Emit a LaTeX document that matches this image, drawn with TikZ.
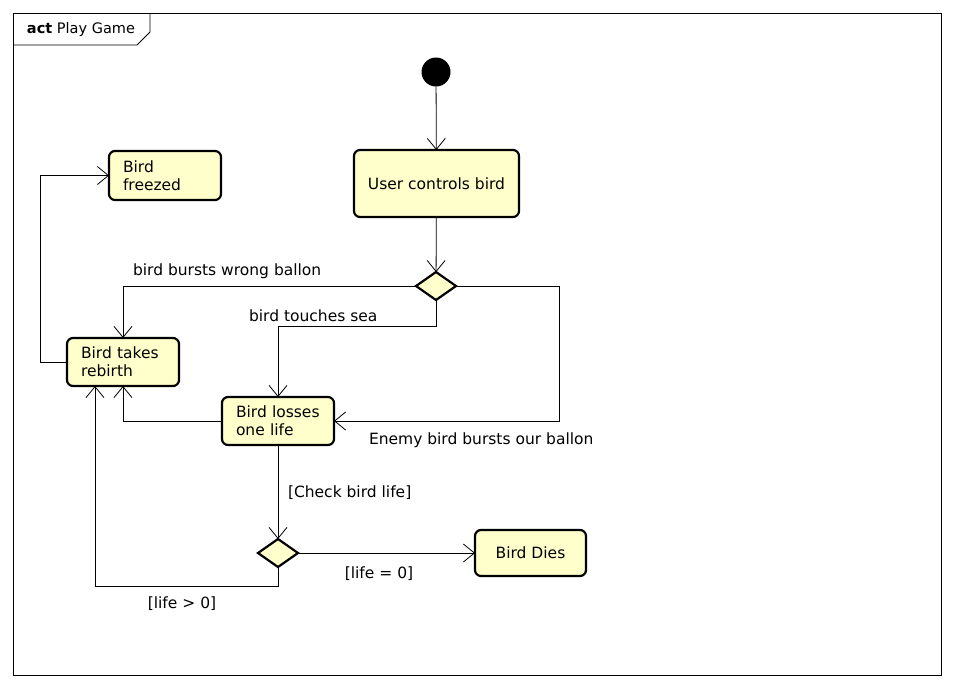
\documentclass[tikz,border=0pt]{standalone}
\usepackage{fontspec}
\setmainfont{DejaVu Sans}
\usepackage{xcolor}
\usetikzlibrary{shapes, positioning, arrows.meta}
\definecolor{actfill}{RGB}{255,255,204}

\begin{document}
\begin{tikzpicture}[x=1pt,y=-1pt,outer sep=0pt,
    action/.style={draw, line width=2.2pt, rounded corners=6pt, fill=actfill, font=\fontsize{15.5}{18}\selectfont},
    decision/.style={draw, diamond, line width=2.2pt, fill=actfill, minimum width=40pt, minimum height=28pt, inner sep=0pt},
    flow/.style={-{Straight Barb[length=11pt,width=18pt]}, line width=0.8pt},
    lbl/.style={font=\fontsize{15.5}{18}\selectfont, inner sep=0pt}]
    \useasboundingbox (0,0) rectangle (953,689);

    % Rahmen
    \draw[line width=0.8pt] (13,13) rectangle (941,675);
    \draw[line width=0.8pt] (13,45) -- (137,45) -- (150,32) -- (150,13);
    \node[lbl, font=\fontsize{14.5}{17}\selectfont, anchor=west] (title) at (27,29) {\textbf{act} Play Game};

    % Start
    \node[circle, fill=black, minimum size=29pt, inner sep=0pt] (start) at (436,72) {};

    % Aktionen
    \node[action, minimum width=165pt, minimum height=67pt, align=center] (control) at (436.5,183.5) {User controls bird};
    \node[action, text width=84pt, inner xsep=14pt, minimum height=49pt, align=left] (freezed) at (165,175.5) {Bird\\freezed};
    \node[action, text width=84pt, inner xsep=14pt, minimum height=48pt, align=left] (rebirth) at (123,362) {Bird takes\\rebirth};
    \node[action, text width=84pt, inner xsep=14pt, minimum height=48pt, align=left] (losses) at (278,421) {Bird losses\\one life};
    \node[action, minimum width=111pt, minimum height=46pt, align=center] (dies) at (530.5,553) {Bird Dies};

    % Entscheidungen
    \node[decision] (check) at (436,286) {};
    \node[decision] (lifecheck) at (278,553) {};

    % Kanten
    \draw[flow] (start) -- (control);
    \draw[flow] (control) -- (check);
    \draw[flow] (check.west) -| (rebirth.north);
    \draw[flow] (check.south) -- ++(0,26) -| (losses.north);
    \draw[flow] (check.east) -- ++(103,0) |- (losses.east);
    \draw[flow] (losses.west) -| (rebirth.south);
    \draw[flow] (rebirth.west) -- ++(-27,0) |- (freezed.west);
    \draw[flow] (losses) -- (lifecheck);
    \draw[flow] (lifecheck.east) -- (dies.west);
    \draw[flow] (lifecheck.south) -- ++(0,19) -| ([xshift=-28pt]rebirth.south);

    % Labels
    \node[lbl, anchor=west] (wrong) at (133,271) {bird bursts wrong ballon};
    \node[lbl, anchor=west] (sea) at (249,316) {bird touches sea};
    \node[lbl, anchor=west] (enemy) at (369,440) {Enemy bird bursts our ballon};
    \node[lbl, anchor=west] (checklife) at (288,493) {[Check bird life]};
    \node[lbl] (zero) at (379,574) {[life = 0]};
    \node[lbl] (alive) at (182,604) {[life > 0]};
  \end{tikzpicture}
\end{document}
